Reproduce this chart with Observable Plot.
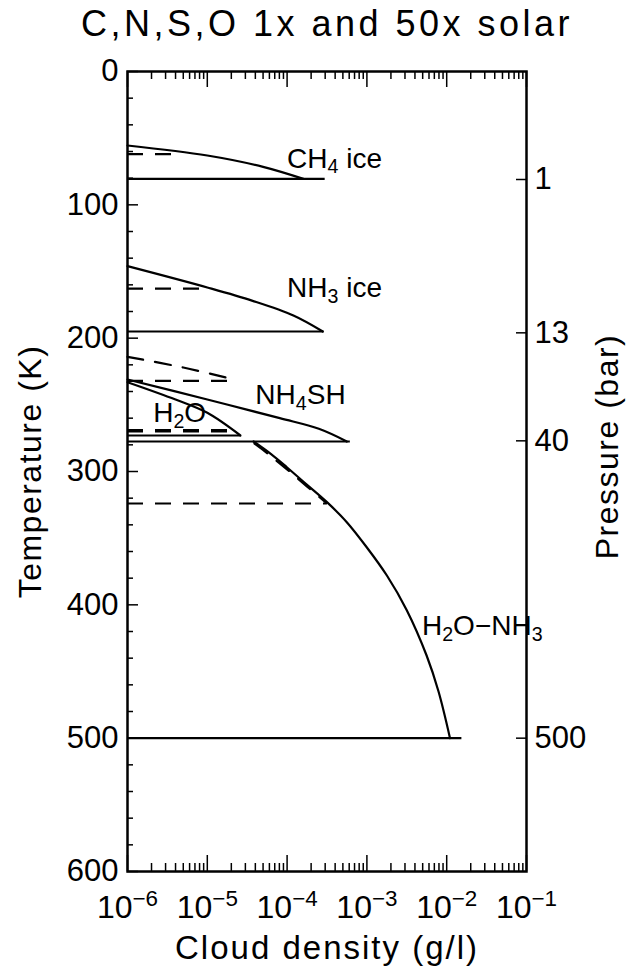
<!DOCTYPE html>
<html>
<head>
<meta charset="utf-8">
<script src="https://cdn.jsdelivr.net/npm/d3@7"></script>
<script src="https://cdn.jsdelivr.net/npm/@observablehq/plot@0.6"></script>
<style>
  html, body { margin: 0; padding: 0; background: #fff; }
  #chart svg { display: block; }
</style>
</head>
<body>
<div id="chart"></div>
<script>
// ---------- text ----------
const titleText = "C,N,S,O 1x and 50x solar";
const xTitle = "Cloud density (g/l)";
const yTitle = "Temperature (K)";
const y2Title = "Pressure (bar)";

// ---------- axes ----------
const xDomain = [1e-6, 1e-1];
const yDomain = [0, 600];
const xMajorTicks = [1e-6, 1e-5, 1e-4, 1e-3, 1e-2, 1e-1];
const yMajorTicks = [0, 100, 200, 300, 400, 500, 600];
const yMinorTicks = [20, 40, 60, 80, 120, 140, 160, 180, 220, 240, 260, 280, 320, 340, 360, 380, 420, 440, 460, 480, 520, 540, 560, 580];
const pressureTemps = [81, 196, 277, 500];
const pressureLabels = ["1", "13", "40", "500"];

// ---------- 50x solar clouds (solid): density (g/l) vs temperature (K) ----------
const ch4Density = [1e-6, 1e-5, 5.0e-5, 1.6e-4];
const ch4Temp = [55.5, 63, 71.5, 80.5];
const nh3Density = [1e-6, 1e-5, 3.7e-5, 1.2e-4, 2.8e-4];
const nh3Temp = [146, 162, 172, 183, 195];
const nh4shDensity = [1e-6, 1e-5, 8.1e-5, 2.5e-4, 5.6e-4];
const nh4shTemp = [231, 246, 260, 268, 277.5];
const h2oDensity = [1e-6, 4e-6, 1e-5, 2.6e-5];
const h2oTemp = [233, 246, 256, 273];
const solDensity = [3.8e-5, 6.3e-5, 1e-4, 1.78e-4, 3.16e-4, 5.6e-4, 1e-3, 1.78e-3, 3.16e-3, 5.6e-3, 7.9e-3, 1.1e-2];
const solTemp = [277.5, 287, 297, 310, 323, 338, 357, 378, 404, 438, 465, 500];
// cloud bases: temperature and density where the base line ends
const baseNames = ["CH4", "NH3", "NH4SH", "H2O", "H2O-NH3"];
const baseTemp = [80.5, 195, 277.5, 273, 500];
const baseEnd = [3.0e-4, 2.9e-4, 6.2e-4, 2.6e-5, 1.55e-2];

// ---------- 1x solar clouds (dashed) ----------
const nh4shDashDensity = [1e-6, 5e-6, 2e-5];
const nh4shDashTemp = [214, 222, 230.5];
const solDashDensity = [3.9e-5, 4.9e-5, 9.8e-5, 1.8e-4, 3.1e-4];
const solDashTemp = [279, 283.5, 298, 311.5, 323.5];
const dashBaseNames = ["CH4", "NH3", "NH4SH", "H2O", "H2O-NH3"];
const dashBaseTemp = [62, 162.8, 232, 269.5, 324];
const dashBaseEnd = [4e-6, 9.4e-6, 2.1e-5, 2.2e-5, 3.2e-4];

// ---------- annotations ----------
const labelTexts = ["CH_4 ice", "NH_3 ice", "NH_4SH", "H_2O", "H_2O−NH_3"];
const labelDensity = [1e-4, 1e-4, 4e-5, 2.1e-6, 4.9e-3];
const labelTemp = [65.3, 162.4, 243, 256.5, 416];

// ---------- tables ----------
const curve = (name, ds, ts) => ds.map((d, i) => ({name, d, t: ts[i]}));
const solidCurves = [
  ...curve("CH4", ch4Density, ch4Temp),
  ...curve("NH3", nh3Density, nh3Temp),
  ...curve("NH4SH", nh4shDensity, nh4shTemp),
  ...curve("H2O", h2oDensity, h2oTemp),
  ...curve("H2O-NH3", solDensity, solTemp)
];
const dashCurves = [
  ...curve("NH4SH", nh4shDashDensity, nh4shDashTemp),
  ...curve("H2O-NH3", solDashDensity, solDashTemp)
];
const solidBases = baseNames.map((name, i) => ({name, t: baseTemp[i], x1: xDomain[0], x2: baseEnd[i]}));
const dashBases = dashBaseNames.map((name, i) => ({name, t: dashBaseTemp[i], x1: xDomain[0], x2: dashBaseEnd[i]}));
const labels = labelTexts.map((text, i) => ({text, d: labelDensity[i], t: labelTemp[i]}));
const xMinorTicks = d3.scaleLog().domain(xDomain).ticks().filter(v => !xMajorTicks.some(m => Math.abs(m - v) / m < 1e-9));
const pressureMap = new Map(pressureTemps.map((t, i) => [t, pressureLabels[i]]));

// ---------- layout ----------
const W = 628, H = 973, mL = 127, mR = 102, mT = 71, mB = 102;
const PW = W - mL - mR, PH = H - mT - mB;
const dash = "16,12";
const sup = d => "10^" + ("" + Math.round(Math.log10(d))).replace("-", "−");

const chart = Plot.plot({
  width: W, height: H,
  marginLeft: mL, marginRight: mR, marginTop: mT, marginBottom: mB,
  style: {fontFamily: "'Liberation Sans', Arial, sans-serif", background: "#fff", color: "#000", overflow: "visible"},
  x: {type: "log", domain: xDomain},
  y: {domain: yDomain, reverse: true},
  marks: [
    // inward ticks
    Plot.ruleY(yMinorTicks, {insetRight: PW - 6, strokeWidth: 1.5}),
    Plot.ruleY(yMajorTicks, {insetRight: PW - 11, strokeWidth: 1.5}),
    Plot.ruleY(pressureTemps, {insetLeft: PW - 10, strokeWidth: 1.5}),
    Plot.ruleX(xMinorTicks, {insetTop: PH - 8, strokeWidth: 1.5}),
    Plot.ruleX(xMajorTicks, {insetTop: PH - 16, strokeWidth: 1.5}),
    Plot.ruleX(xMinorTicks, {insetBottom: PH - 8, strokeWidth: 1.5}),
    Plot.ruleX(xMajorTicks, {insetBottom: PH - 16, strokeWidth: 1.5}),
    // tick labels
    Plot.axisY(yMajorTicks, {anchor: "left", tickSize: 0, tickPadding: 9, label: null, fontSize: 31}),
    Plot.axisY(pressureTemps, {anchor: "right", tickSize: 0, tickPadding: 8, label: null, fontSize: 31, tickFormat: t => pressureMap.get(t)}),
    Plot.axisX(xMajorTicks, {anchor: "bottom", tickSize: 0, tickPadding: 24, label: null, fontSize: 32, tickFormat: sup}),
    // clouds
    Plot.ruleY(solidBases, {y: "t", x1: "x1", x2: "x2", strokeWidth: 2.2}),
    Plot.line(solidCurves, {x: "d", y: "t", z: "name", curve: "catmull-rom", strokeWidth: 2.2}),
    Plot.ruleY(dashBases.filter(d => d.name !== "H2O"), {y: "t", x1: "x1", x2: "x2", strokeWidth: 2.2, strokeDasharray: dash}),
    Plot.ruleY(dashBases.filter(d => d.name === "H2O"), {y: "t", x1: "x1", x2: "x2", strokeWidth: 3.5, strokeDasharray: dash}),
    Plot.line(dashCurves, {x: "d", y: "t", z: "name", curve: "catmull-rom", strokeWidth: 2.2, strokeDasharray: dash}),
    // annotations
    Plot.text(labels, {x: "d", y: "t", text: "text", textAnchor: "start", lineAnchor: "middle", fontSize: 28}),
    // titles
    Plot.text([titleText], {frameAnchor: "top", textAnchor: "middle", lineAnchor: "middle", dy: -47, fontSize: 36}),
    Plot.text([xTitle], {frameAnchor: "bottom", textAnchor: "middle", lineAnchor: "middle", dy: 77, fontSize: 33}),
    Plot.text([yTitle], {frameAnchor: "left", textAnchor: "middle", lineAnchor: "middle", rotate: -90, dx: -97, dy: 0, fontSize: 32}),
    Plot.text([y2Title], {frameAnchor: "right", textAnchor: "middle", lineAnchor: "middle", rotate: -90, dx: 81, dy: -25, fontSize: 32}),
    Plot.frame({strokeWidth: 2.5})
  ]
});

// rich text: subscripts (_n) and superscripts (^n), letter spacing
const NS = "http://www.w3.org/2000/svg";
const spacing = new Map([[titleText, "3.5px"], [xTitle, "2px"], [yTitle, "1.5px"], [y2Title, "1.5px"]]);
chart.querySelectorAll("text").forEach(t => {
  const s = t.textContent;
  if (spacing.has(s)) t.setAttribute("letter-spacing", spacing.get(s));
  if (!/[_^]/.test(s)) return;
  const parts = s.split(/([_^][−\-]?\d+)/).filter(p => p !== "");
  t.textContent = "";
  let reset = 0;
  for (const p of parts) {
    const ts = document.createElementNS(NS, "tspan");
    if (p[0] === "_" || p[0] === "^") {
      ts.setAttribute("font-size", "70%");
      ts.setAttribute("dy", p[0] === "_" ? "0.3em" : "-0.55em");
      ts.textContent = p.slice(1);
      reset = p[0] === "_" ? -0.21 : 0.385;
    } else {
      if (reset) ts.setAttribute("dy", reset + "em");
      reset = 0;
      ts.textContent = p;
    }
    t.appendChild(ts);
  }
});
document.getElementById("chart").appendChild(chart);
</script>
</body>
</html>
